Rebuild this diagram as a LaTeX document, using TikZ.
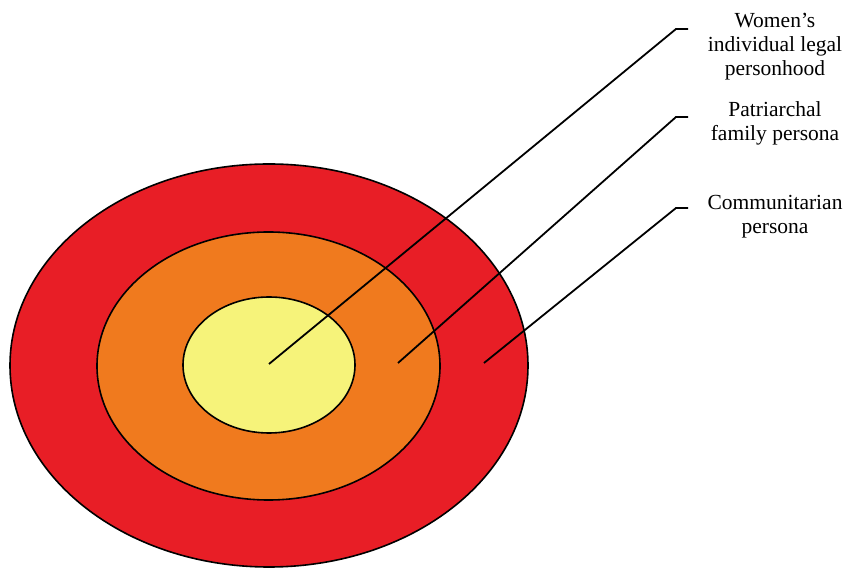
\documentclass[tikz,border=0pt]{standalone}
\usepackage{fontspec}
\setmainfont{Liberation Serif}
\usetikzlibrary{shapes.geometric}
\definecolor{ringred}{RGB}{232,30,38}
\definecolor{ringorange}{RGB}{240,122,30}
\definecolor{ringyellow}{RGB}{246,243,122}
\tikzset{
  ring/.style={ellipse, draw=black, line width=1.6pt, inner sep=0pt},
  conn/.style={draw=black, line width=1.8pt},
  lbl/.style={anchor=north, align=center, inner sep=0pt,
    font=\fontsize{21.5}{24}\selectfont}
}
\begin{document}
\begin{tikzpicture}[x=1pt,y=1pt]
\useasboundingbox (0,0) rectangle (846,570);
\fill[white] (0,0) rectangle (846,570);
\node[ring, fill=ringred, minimum width=518pt, minimum height=403pt] (outer) at (269,204.5) {};
\node[ring, fill=ringorange, minimum width=343pt, minimum height=268pt] (middle) at (268.5,204) {};
\node[ring, fill=ringyellow, minimum width=172pt, minimum height=136pt] (inner) at (269,205) {};
% connector points
\coordinate (s1) at (269,206);
\coordinate (s2) at (398,207);
\coordinate (s3) at (484,207);
\coordinate (k1) at (676,541);
\coordinate (e1) at (688,541);
\coordinate (k2) at (676,453);
\coordinate (e2) at (688,453);
\coordinate (k3) at (676,362);
\coordinate (e3) at (688,362);
\draw[conn] (s1) -- (k1) -- (e1);
\draw[conn] (s2) -- (k2) -- (e2);
\draw[conn] (s3) -- (k3) -- (e3);
\node[lbl] (l1) at (775,557) {Women’s\\individual legal\\personhood};
\node[lbl] (l2) at (775,469) {Patriarchal\\family persona};
\node[lbl] (l3) at (775,375) {Communitarian\\persona};
\end{tikzpicture}
\end{document}
